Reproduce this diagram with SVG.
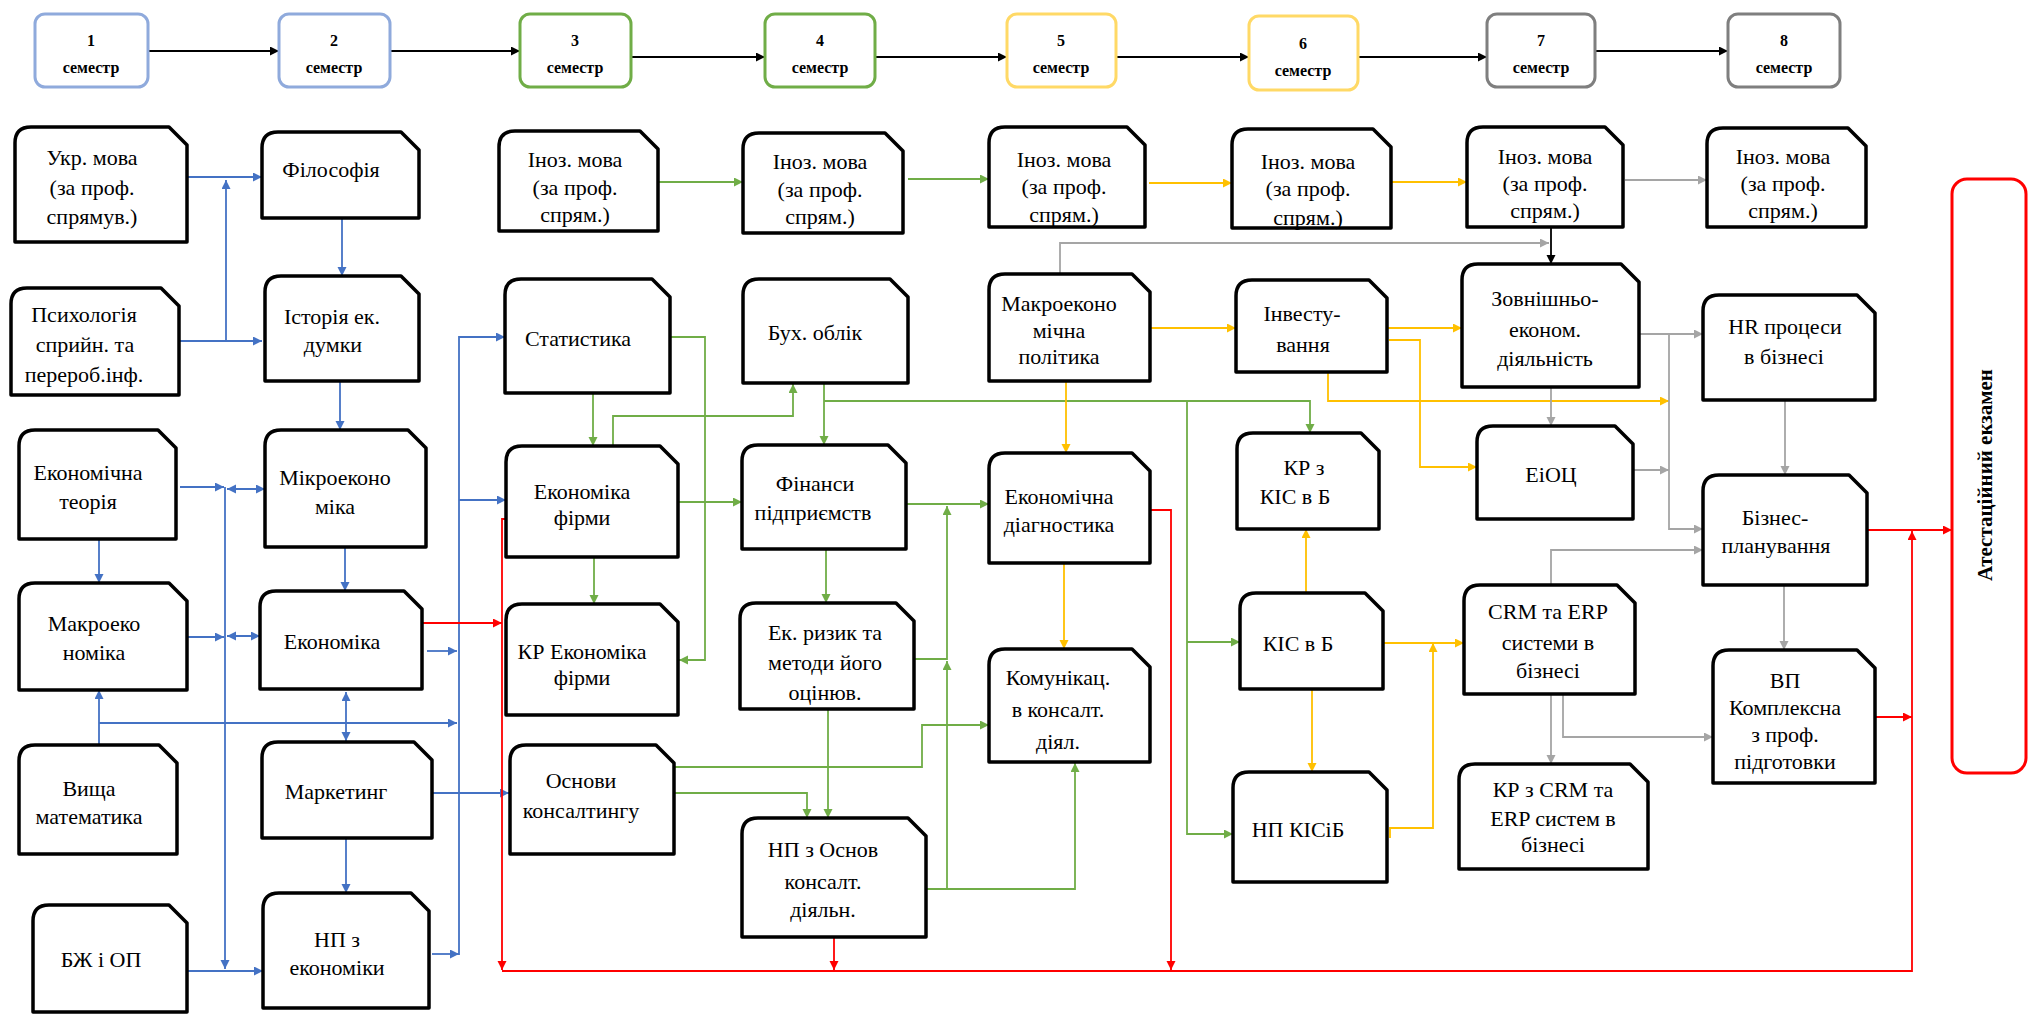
<svg xmlns="http://www.w3.org/2000/svg" width="2031" height="1014" viewBox="0 0 2031 1014">
<style>
.n{fill:#fff;stroke:#000;stroke-width:3.5;stroke-linejoin:round}
.t{font-family:"Liberation Serif","Times New Roman",serif;font-size:22px;fill:#000;text-anchor:middle}
.s{fill:#fff;stroke-width:3}
.st{font-family:"Liberation Serif","Times New Roman",serif;font-size:16px;font-weight:bold;fill:#000;text-anchor:middle}
.c{fill:none;stroke-width:1.8}
.b{stroke:#4472c4}.g{stroke:#70ad47}.y{stroke:#ffc000}.gr{stroke:#a5a5a5}.r{stroke:#ff0000}.k{stroke:#000}
</style>
<defs>
<marker id="mb" markerWidth="10" markerHeight="10" refX="9" refY="4.5" orient="auto-start-reverse" markerUnits="userSpaceOnUse"><path d="M0,0 L9,4.5 L0,9 z" fill="#4472c4"/></marker>
<marker id="mg" markerWidth="10" markerHeight="10" refX="9" refY="4.5" orient="auto-start-reverse" markerUnits="userSpaceOnUse"><path d="M0,0 L9,4.5 L0,9 z" fill="#70ad47"/></marker>
<marker id="my" markerWidth="10" markerHeight="10" refX="9" refY="4.5" orient="auto-start-reverse" markerUnits="userSpaceOnUse"><path d="M0,0 L9,4.5 L0,9 z" fill="#ffc000"/></marker>
<marker id="mgr" markerWidth="10" markerHeight="10" refX="9" refY="4.5" orient="auto-start-reverse" markerUnits="userSpaceOnUse"><path d="M0,0 L9,4.5 L0,9 z" fill="#a5a5a5"/></marker>
<marker id="mr" markerWidth="10" markerHeight="10" refX="9" refY="4.5" orient="auto-start-reverse" markerUnits="userSpaceOnUse"><path d="M0,0 L9,4.5 L0,9 z" fill="#ff0000"/></marker>
<marker id="mk" markerWidth="10" markerHeight="10" refX="9" refY="4.5" orient="auto-start-reverse" markerUnits="userSpaceOnUse"><path d="M0,0 L9,4.5 L0,9 z" fill="#000"/></marker>
</defs>
<rect width="2031" height="1014" fill="#fff"/>

<g id="connectors">
<g class="c k" marker-end="url(#mk)">
<path d="M148,51 H279"/><path d="M390,51 H520"/><path d="M631,57 H765"/><path d="M875,57 H1007"/><path d="M1116,57 H1249"/><path d="M1358,57 H1487"/><path d="M1595,51 H1728"/>
<path d="M1551,227 V264"/>
</g>
<g class="c b" marker-end="url(#mb)">
<path d="M187,177 H262"/>
<path d="M179,341 H262"/>
<path d="M226,341 V180"/>
<path d="M342,218 V276"/>
<path d="M340,381 V430"/>
<path d="M180,487 H224"/>
<path d="M227,489 H265" marker-start="url(#mb)"/>
<path d="M225,487 V969"/>
<path d="M188,637 H224"/>
<path d="M227,636 H260" marker-start="url(#mb)"/>
<path d="M99,539 V583"/>
<path d="M345,547 V591"/>
<path d="M427,651 H457"/>
<path d="M459,955 V337 H505"/>
<path d="M459,500 H506"/>
<path d="M99,745 V690"/>
<path d="M99,723 H457"/>
<path d="M346,692 V741" marker-start="url(#mb)"/>
<path d="M346,838 V893"/>
<path d="M430,793 H509"/>
<path d="M432,954 H459"/>
<path d="M188,971 H263"/>
</g>
<g class="c g" marker-end="url(#mg)">
<path d="M658,182 H743"/>
<path d="M908,179 H989"/>
<path d="M670,337 H705 V660 H679"/>
<path d="M593,393 V446"/>
<path d="M613,446 V416 H793 V384"/>
<path d="M824,383 V445"/>
<path d="M824,401 H1310 V433"/>
<path d="M1187,401 V834 H1233"/>
<path d="M1187,642 H1240"/>
<path d="M594,557 V604"/>
<path d="M678,502 H742"/>
<path d="M906,504 H989"/>
<path d="M826,549 V603"/>
<path d="M914,659 H947 V506"/>
<path d="M926,889 H1075 V763"/>
<path d="M947,889 V661"/>
<path d="M674,767 H922 V725 H989"/>
<path d="M674,793 H807 V818"/>
<path d="M828,709 V818"/>
</g>
<g class="c y" marker-end="url(#my)">
<path d="M1149,183 H1232"/>
<path d="M1392,182 H1467"/>
<path d="M1150,328 H1236"/>
<path d="M1385,328 H1462"/>
<path d="M1389,340 H1420 V467 H1477"/>
<path d="M1328,372 V401 H1669"/>
<path d="M1066,381 V453"/>
<path d="M1064,563 V649"/>
<path d="M1306,593 V529"/>
<path d="M1381,643 H1464"/>
<path d="M1390,838 V828 H1433 V643"/>
<path d="M1312,689 V772"/>
</g>
<g class="c gr" marker-end="url(#mgr)">
<path d="M1625,180 H1707"/>
<path d="M1060,274 V243 H1549"/>
<path d="M1639,334 H1703"/>
<path d="M1669,334 V529 H1703"/>
<path d="M1551,387 V426"/>
<path d="M1633,470 H1669"/>
<path d="M1785,400 V475"/>
<path d="M1551,585 V550 H1703"/>
<path d="M1784,585 V650"/>
<path d="M1551,694 V764"/>
<path d="M1563,694 V737 H1713"/>
</g>
<g class="c r" marker-end="url(#mr)">
<path d="M422,623 H502"/>
<path d="M506,519 H502 V970"/>
<path d="M502,971 H1912 V531"/>
<path d="M1150,510 H1171 V970"/>
<path d="M834,937 V970"/>
<path d="M1867,530 H1952"/>
<path d="M1875,717 H1912"/>
</g>
</g>

<g id="sem1"><rect class="s" x="35" y="14" width="113" height="73" rx="10" stroke="#8faadc"/><text class="st" x="91" y="46">1</text><text class="st" x="91" y="73">семестр</text></g>
<g id="sem2"><rect class="s" x="279" y="14" width="111" height="73" rx="10" stroke="#8faadc"/><text class="st" x="334" y="46">2</text><text class="st" x="334" y="73">семестр</text></g>
<g id="sem3"><rect class="s" x="520" y="14" width="111" height="73" rx="10" stroke="#70ad47"/><text class="st" x="575" y="46">3</text><text class="st" x="575" y="73">семестр</text></g>
<g id="sem4"><rect class="s" x="765" y="14" width="110" height="73" rx="10" stroke="#70ad47"/><text class="st" x="820" y="46">4</text><text class="st" x="820" y="73">семестр</text></g>
<g id="sem5"><rect class="s" x="1007" y="14" width="109" height="73" rx="10" stroke="#ffd966"/><text class="st" x="1061" y="46">5</text><text class="st" x="1061" y="73">семестр</text></g>
<g id="sem6"><rect class="s" x="1249" y="16" width="109" height="74" rx="10" stroke="#ffd966"/><text class="st" x="1303" y="49">6</text><text class="st" x="1303" y="76">семестр</text></g>
<g id="sem7"><rect class="s" x="1487" y="14" width="108" height="73" rx="10" stroke="#7f7f7f"/><text class="st" x="1541" y="46">7</text><text class="st" x="1541" y="73">семестр</text></g>
<g id="sem8"><rect class="s" x="1728" y="14" width="112" height="73" rx="10" stroke="#7f7f7f"/><text class="st" x="1784" y="46">8</text><text class="st" x="1784" y="73">семестр</text></g>

<g id="ukr"><path class="n" d="M15,242 V143 Q15,127 31,127 H169 L187,145 V242 Z"/><text class="t" x="92" y="165">Укр. мова</text><text class="t" x="92" y="195">(за проф.</text><text class="t" x="92" y="224">спрямув.)</text></g>
<g id="fil"><path class="n" d="M262,218 V148 Q262,132 278,132 H401 L419,150 V218 Z"/><text class="t" x="331" y="177">Філософія</text></g>
<g id="psy"><path class="n" d="M11,395 V304 Q11,288 27,288 H161 L179,306 V395 Z"/><text class="t" x="84" y="322">Психологія</text><text class="t" x="85" y="352">сприйн. та</text><text class="t" x="84" y="382">перероб.інф.</text></g>
<g id="ist"><path class="n" d="M265,381 V292 Q265,276 281,276 H401 L419,294 V381 Z"/><text class="t" x="332" y="324">Історія  ек.</text><text class="t" x="333" y="352">думки</text></g>
<g id="ekt"><path class="n" d="M19,539 V446 Q19,430 35,430 H158 L176,448 V539 Z"/><text class="t" x="88" y="480">Економічна</text><text class="t" x="88" y="509">теорія</text></g>
<g id="mik"><path class="n" d="M265,547 V446 Q265,430 281,430 H408 L426,448 V547 Z"/><text class="t" x="335" y="485">Мікроеконо</text><text class="t" x="335" y="514">міка</text></g>
<g id="mak"><path class="n" d="M19,690 V599 Q19,583 35,583 H169 L187,601 V690 Z"/><text class="t" x="94" y="631">Макроеко</text><text class="t" x="94" y="660">номіка</text></g>
<g id="eko"><path class="n" d="M260,689 V607 Q260,591 276,591 H404 L422,609 V689 Z"/><text class="t" x="332" y="649">Економіка</text></g>
<g id="vyshch"><path class="n" d="M19,854 V761 Q19,745 35,745 H159 L177,763 V854 Z"/><text class="t" x="89" y="796">Вища</text><text class="t" x="89" y="824">математика</text></g>
<g id="mark"><path class="n" d="M262,838 V758 Q262,742 278,742 H414 L432,760 V838 Z"/><text class="t" x="336" y="799">Маркетинг</text></g>
<g id="bzh"><path class="n" d="M33,1012 V921 Q33,905 49,905 H169 L187,923 V1012 Z"/><text class="t" x="101" y="967">БЖ і ОП</text></g>
<g id="npek"><path class="n" d="M263,1008 V909 Q263,893 279,893 H411 L429,911 V1008 Z"/><text class="t" x="337" y="947">НП з</text><text class="t" x="337" y="975">економіки</text></g>

<g id="in3"><path class="n" d="M499,231 V147 Q499,131 515,131 H640 L658,149 V231 Z"/><text class="t" x="575" y="167">Іноз. мова</text><text class="t" x="575" y="195">(за проф.</text><text class="t" x="575" y="222">спрям.)</text></g>
<g id="in4"><path class="n" d="M743,233 V149 Q743,133 759,133 H885 L903,151 V233 Z"/><text class="t" x="820" y="169">Іноз. мова</text><text class="t" x="820" y="197">(за проф.</text><text class="t" x="820" y="224">спрям.)</text></g>
<g id="stat"><path class="n" d="M505,393 V295 Q505,279 521,279 H652 L670,297 V393 Z"/><text class="t" x="578" y="346">Статистика</text></g>
<g id="buh"><path class="n" d="M743,383 V295 Q743,279 759,279 H890 L908,297 V383 Z"/><text class="t" x="815" y="340">Бух. облік</text></g>
<g id="ekf"><path class="n" d="M506,557 V462 Q506,446 522,446 H660 L678,464 V557 Z"/><text class="t" x="582" y="499">Економіка</text><text class="t" x="582" y="525">фірми</text></g>
<g id="krekf"><path class="n" d="M506,715 V620 Q506,604 522,604 H660 L678,622 V715 Z"/><text class="t" x="582" y="659">КР Економіка</text><text class="t" x="582" y="685">фірми</text></g>
<g id="osn"><path class="n" d="M510,854 V761 Q510,745 526,745 H656 L674,763 V854 Z"/><text class="t" x="581" y="788">Основи</text><text class="t" x="581" y="818">консалтингу</text></g>
<g id="fin"><path class="n" d="M742,549 V461 Q742,445 758,445 H888 L906,463 V549 Z"/><text class="t" x="815" y="491">Фінанси</text><text class="t" x="813" y="520">підприємств</text></g>
<g id="ryz"><path class="n" d="M740,709 V619 Q740,603 756,603 H896 L914,621 V709 Z"/><text class="t" x="825" y="640">Ек. ризик та</text><text class="t" x="825" y="670">методи його</text><text class="t" x="825" y="700">оцінюв.</text></g>
<g id="nposn"><path class="n" d="M742,937 V834 Q742,818 758,818 H908 L926,836 V937 Z"/><text class="t" x="823" y="857">НП з Основ</text><text class="t" x="823" y="889">консалт.</text><text class="t" x="823" y="917">діяльн.</text></g>

<g id="in5"><path class="n" d="M989,227 V143 Q989,127 1005,127 H1127 L1145,145 V227 Z"/><text class="t" x="1064" y="167">Іноз. мова</text><text class="t" x="1064" y="194">(за проф.</text><text class="t" x="1064" y="222">спрям.)</text></g>
<g id="in6"><path class="n" d="M1232,228 V145 Q1232,129 1248,129 H1373 L1391,147 V228 Z"/><text class="t" x="1308" y="169">Іноз. мова</text><text class="t" x="1308" y="196">(за проф.</text><text class="t" x="1308" y="225">спрям.)</text></g>
<g id="makpol"><path class="n" d="M989,381 V290 Q989,274 1005,274 H1132 L1150,292 V381 Z"/><text class="t" x="1059" y="311">Макроеконо</text><text class="t" x="1059" y="338">мічна</text><text class="t" x="1059" y="364">політика</text></g>
<g id="inv"><path class="n" d="M1236,372 V296 Q1236,280 1252,280 H1369 L1387,298 V372 Z"/><text class="t" x="1302" y="321">Інвесту-</text><text class="t" x="1303" y="352">вання</text></g>
<g id="ekd"><path class="n" d="M989,563 V469 Q989,453 1005,453 H1132 L1150,471 V563 Z"/><text class="t" x="1059" y="504">Економічна</text><text class="t" x="1059" y="532">діагностика</text></g>
<g id="kom"><path class="n" d="M989,762 V665 Q989,649 1005,649 H1132 L1150,667 V762 Z"/><text class="t" x="1058" y="685">Комунікац.</text><text class="t" x="1058" y="717">в консалт.</text><text class="t" x="1058" y="749">діял.</text></g>
<g id="krkis"><path class="n" d="M1237,529 V449 Q1237,433 1253,433 H1361 L1379,451 V529 Z"/><text class="t" x="1304" y="475">КР з</text><text class="t" x="1295" y="504">КІС в Б</text></g>
<g id="kis"><path class="n" d="M1240,689 V609 Q1240,593 1256,593 H1365 L1383,611 V689 Z"/><text class="t" x="1298" y="651">КІС в Б</text></g>
<g id="npkis"><path class="n" d="M1233,882 V788 Q1233,772 1249,772 H1369 L1387,790 V882 Z"/><text class="t" x="1298" y="837">НП КІСіБ</text></g>

<g id="in7"><path class="n" d="M1467,227 V143 Q1467,127 1483,127 H1605 L1623,145 V227 Z"/><text class="t" x="1545" y="164">Іноз. мова</text><text class="t" x="1545" y="191">(за проф.</text><text class="t" x="1545" y="218">спрям.)</text></g>
<g id="in8"><path class="n" d="M1707,227 V144 Q1707,128 1723,128 H1848 L1866,146 V227 Z"/><text class="t" x="1783" y="164">Іноз. мова</text><text class="t" x="1783" y="191">(за проф.</text><text class="t" x="1783" y="218">спрям.)</text></g>
<g id="zed"><path class="n" d="M1462,387 V280 Q1462,264 1478,264 H1621 L1639,282 V387 Z"/><text class="t" x="1545" y="306">Зовнішньо-</text><text class="t" x="1545" y="337">економ.</text><text class="t" x="1545" y="366">діяльність</text></g>
<g id="eiots"><path class="n" d="M1477,519 V442 Q1477,426 1493,426 H1615 L1633,444 V519 Z"/><text class="t" x="1551" y="482">ЕіОЦ</text></g>
<g id="crm"><path class="n" d="M1464,694 V601 Q1464,585 1480,585 H1617 L1635,603 V694 Z"/><text class="t" x="1548" y="619">CRM та ERP</text><text class="t" x="1548" y="650">системи  в</text><text class="t" x="1548" y="678">бізнесі</text></g>
<g id="krcrm"><path class="n" d="M1459,869 V780 Q1459,764 1475,764 H1630 L1648,782 V869 Z"/><text class="t" x="1553" y="797">КР з CRM та</text><text class="t" x="1553" y="826">ERP систем в</text><text class="t" x="1553" y="852">бізнесі</text></g>
<g id="hr"><path class="n" d="M1703,400 V311 Q1703,295 1719,295 H1857 L1875,313 V400 Z"/><text class="t" x="1785" y="334">HR процеси</text><text class="t" x="1784" y="364">в бізнесі</text></g>
<g id="biz"><path class="n" d="M1703,585 V491 Q1703,475 1719,475 H1849 L1867,493 V585 Z"/><text class="t" x="1775" y="525">Бізнес-</text><text class="t" x="1776" y="553">планування</text></g>
<g id="vp"><path class="n" d="M1713,783 V666 Q1713,650 1729,650 H1857 L1875,668 V783 Z"/><text class="t" x="1785" y="688">ВП</text><text class="t" x="1785" y="715">Комплексна</text><text class="t" x="1785" y="742">з проф.</text><text class="t" x="1785" y="769">підготовки</text></g>

<g id="atest"><rect x="1952" y="179" width="74" height="594" rx="15" fill="#fff" stroke="#ff0000" stroke-width="3"/><text transform="translate(1992,475) rotate(-90)" font-family="'Liberation Serif','Times New Roman',serif" font-size="21" font-weight="bold" text-anchor="middle">Атестаційний екзамен</text></g>
</svg>
